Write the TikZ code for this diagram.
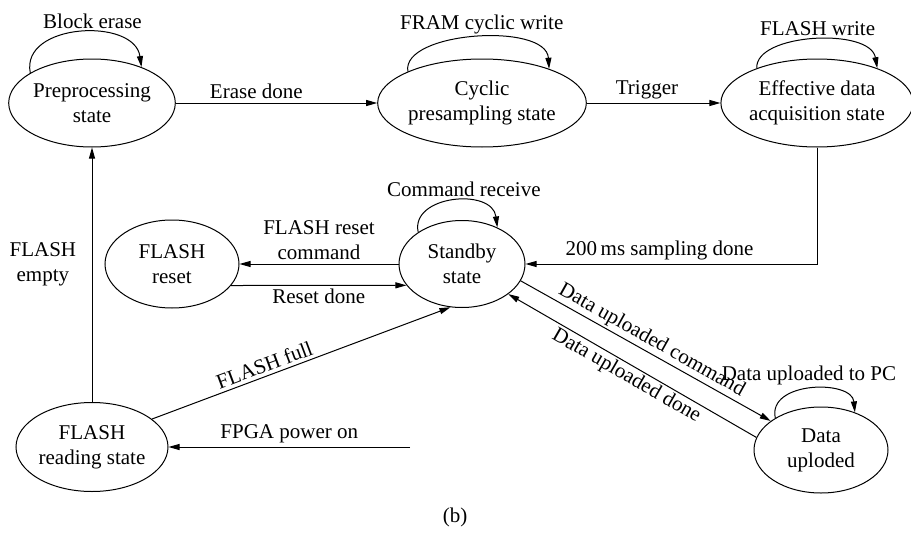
\documentclass[tikz,border=0pt]{standalone}
\usepackage{fontspec}
\setmainfont{Liberation Serif}
\usetikzlibrary{shapes.geometric,arrows.meta}
\begin{document}
\begin{tikzpicture}[x=1pt,y=-1pt,
    state/.style={ellipse,draw,line width=1pt,align=center,inner sep=0pt},
    trans/.style={-{Triangle[length=11pt,width=6pt]},line width=1pt},
    font=\fontsize{21}{25}\selectfont]
  \useasboundingbox (0,0) rectangle (911,533);
  % states
  \node[state,minimum width=134pt,minimum height=88pt] (pre) at (92,103) {Preprocessing\\state};
  \node[state,minimum width=171pt,minimum height=88pt] (cyc) at (482,103) {Cyclic\\presampling state};
  \node[state,minimum width=186pt,minimum height=88pt] (eff) at (817,103) {Effective data\\acquisition state};
  \node[state,minimum width=134pt,minimum height=88pt] (reset) at (172,264) {FLASH\\reset};
  \node[state,minimum width=126pt,minimum height=87pt] (standby) at (462,264) {Standby\\state};
  \node[state,minimum width=134pt,minimum height=86pt] (upl) at (821,450) {Data\\uploded};
  \node[state,minimum width=152pt,minimum height=89pt] (read) at (92,447) {FLASH\\reading state};
  \coordinate (pwr) at (410,447);
  % self loops
  \draw[trans] (pre.154) .. controls +(-10,-50) and +(-7,-50) .. node[above,xshift=13pt] (lblerase) {Block erase} (pre.36);
  \draw[trans] (cyc.157) .. controls +(-7,-40) and +(-3,-47) .. node[above,xshift=7pt] (lblfram) {FRAM cyclic write} (cyc.27);
  \draw[trans] (eff.150) .. controls +(-2,-35) and +(-7,-41) .. node[above,xshift=4pt] (lblwrite) {FLASH write} (eff.30);
  \draw[trans] (standby.144) .. controls +(-8,-37) and +(-5,-40) .. node[above,xshift=11pt] (lblcmd) {Command receive} (standby.46);
  \draw[trans] (upl.145) .. controls +(-8,-37) and +(-3,-33) .. node[above,xshift=-2pt] (lblpc) {Data uploaded to PC} (upl.48);
  % transitions
  \draw[trans] (pre) -- node[pos=0.4,above] (lbldone) {Erase done} (cyc);
  \draw[trans] (cyc) -- node[pos=0.45,above] (lbltrig) {Trigger} (eff);
  \draw[trans] (eff.south) |- node[pos=0.77,above] (lblsamp) {200\,ms sampling done} (standby.east);
  \draw[trans] (standby) -- node[above,align=center] (lblrcmd) {FLASH reset\\command} (reset);
  \draw[trans] (reset.340) -- node[below] (lblrdone) {Reset done} (standby.201);
  \draw[trans] (standby.-16) -- node[above,sloped,inner sep=2pt] (lblucmd) {Data uploaded command} (upl.150);
  \draw[trans] (upl.169) -- node[below,sloped,inner sep=2pt] (lbludone) {Data uploaded done} (standby.-33);
  \draw[trans] (read.25) -- node[pos=0.39,above,sloped] (lblfull) {FLASH full} (standby.255);
  \draw[trans] (read.north) -- node[pos=0.54,left=12pt,align=center] (lblempty) {FLASH\\empty} (pre.south);
  \draw[trans] (pwr) -- node[above] (lblpwr) {FPGA power on} (read.east);
  \node (cap) at (455,517) {(b)};
\end{tikzpicture}
\end{document}
